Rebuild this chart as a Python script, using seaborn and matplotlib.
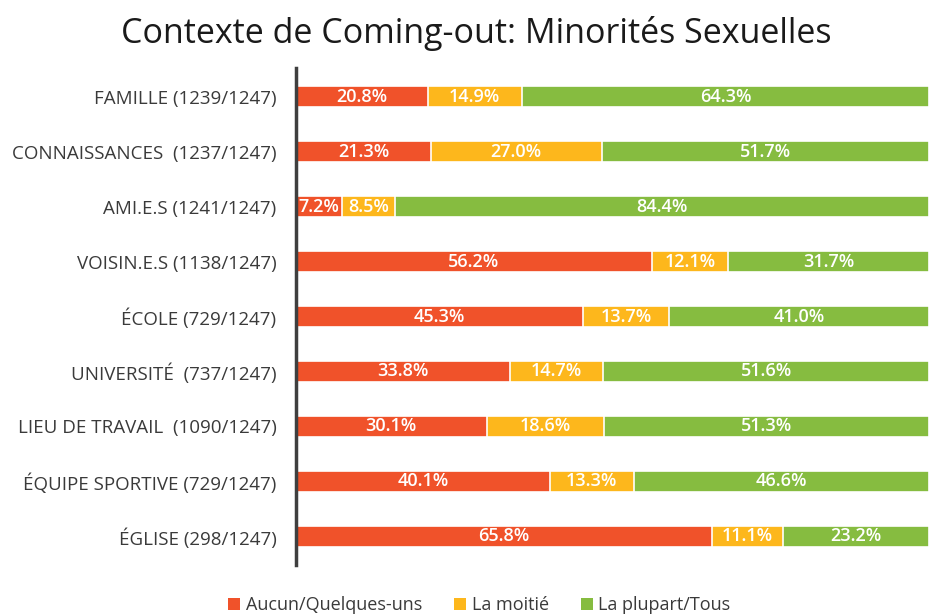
import matplotlib
matplotlib.use("Agg")
import matplotlib.pyplot as plt
from matplotlib.patches import Patch
import seaborn as sns
import pandas as pd
import numpy as np

categories = ["FAMILLE (1239/1247)", "CONNAISSANCES  (1237/1247)", "AMI.E.S (1241/1247)",
              "VOISIN.E.S (1138/1247)", "ÉCOLE (729/1247)", "UNIVERSITÉ  (737/1247)",
              "LIEU DE TRAVAIL  (1090/1247)", "ÉQUIPE SPORTIVE (729/1247)", "ÉGLISE (298/1247)"]
aucun = [20.8, 21.3, 7.2, 56.2, 45.3, 33.8, 30.1, 40.1, 65.8]
moitie = [14.9, 27.0, 8.5, 12.1, 13.7, 14.7, 18.6, 13.3, 11.1]
plupart = [64.3, 51.7, 84.4, 31.7, 41.0, 51.6, 51.3, 46.6, 23.2]
series_names = ["Aucun/Quelques-uns", "La moitié", "La plupart/Tous"]
colors = ["#F0522A", "#FDB71C", "#86BC40"]

sns.set_theme(style="white")
plt.rcParams['font.family'] = ['Open Sans', 'DejaVu Sans']

df = pd.DataFrame({"cat": categories, "a": aucun, "m": moitie, "p": plupart})
df["c1"] = df["a"]
df["c2"] = df["a"] + df["m"]
df["c3"] = df["a"] + df["m"] + df["p"]

fig = plt.figure(figsize=(9.31, 6.15), dpi=100)
ax = fig.add_axes([0.318, 0.0813, 0.681, 0.8081])

for col, color in zip(["c3", "c2", "c1"], colors[::-1]):
    sns.barplot(data=df, y="cat", x=col, order=categories, color=color, width=0.37,
                orient="h", edgecolor="white", linewidth=1.2, saturation=1, ax=ax)

for i, row in df.iterrows():
    starts = [0, row["c1"], row["c2"]]
    vals = [row["a"], row["m"], row["p"]]
    for s, v in zip(starts, vals):
        ax.text(s + v / 2, i, f"{v:.1f}%", ha="center", va="center", color="white",
                fontsize=13, fontweight="semibold")

ax.set_xlim(0, 100.2)
ax.set_ylim(8.52, -0.52)
ax.set_xlabel("")
ax.set_ylabel("")
ax.set_xticks([])
ax.tick_params(axis="y", length=0, pad=14, labelsize=13.5, labelcolor="#3a3a3a")
for s in ["top", "right", "bottom"]:
    ax.spines[s].set_visible(False)
ax.spines["left"].set_color("#3f3f3f")
ax.spines["left"].set_linewidth(2.5)

fig.text(0.512, 0.946, "Contexte de Coming-out: Minorités Sexuelles", ha="center", va="center",
         fontsize=24.5, fontweight="medium", color="#1a1a1a")

handles = [Patch(facecolor=c, edgecolor="none") for c in colors]
fig.legend(handles, series_names, loc="center", bbox_to_anchor=(0.515, 0.016), ncol=3,
           frameon=False, fontsize=13, handlelength=0.65, handleheight=0.65,
           handletextpad=0.3, columnspacing=1.8, labelcolor="#3a3a3a")

fig.savefig("out.png", dpi=100)
